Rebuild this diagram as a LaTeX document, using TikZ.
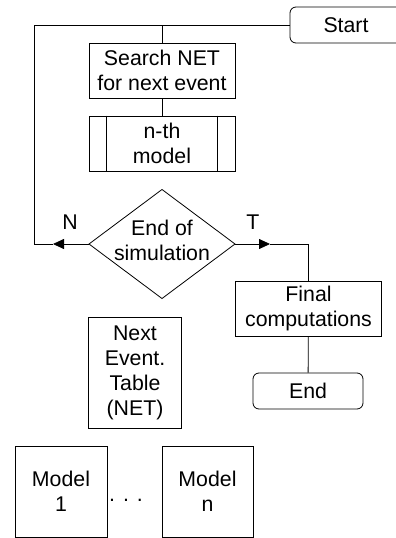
\documentclass[tikz,border=0pt]{standalone}
\usepackage{fontspec}
\setmainfont{Liberation Sans}
\usetikzlibrary{arrows.meta}

\begin{document}
\begin{tikzpicture}[x=1pt, y=-1pt, line width=0.8pt,
  box/.style={draw, inner sep=0pt, align=center, font=\fontsize{21.3}{25}\selectfont},
  term/.style={box, rounded corners=6pt},
  lbl/.style={inner sep=0pt, font=\fontsize{21.3}{25}\selectfont},
  arr/.style={-{Triangle[length=11pt,width=10pt]}}]
  %tikz  simulation loop over the next event table
    \useasboundingbox (0,0) rectangle (396,538);
    \def\bw{146pt}
    \def\bh{55pt}
    \node[term, minimum width=112pt, minimum height=36pt] (start) at (346,25) {Start};
    \node[box, minimum width=\bw, minimum height=\bh] (search) at (162,70.5) {Search NET\\for next event};
    \node[box, minimum width=\bw, minimum height=\bh] (nth) at (162,143.5) {n-th\\model};
    \draw ([xshift=18pt]nth.north west) -- ([xshift=18pt]nth.south west);
    \draw ([xshift=-18pt]nth.north east) -- ([xshift=-18pt]nth.south east);
    % decision
    \coordinate (decW) at (89,244);
    \coordinate (decE) at (235,244);
    \draw (decW) -- (162,189.5) -- (decE) -- (162,298.5) -- cycle;
    \node[lbl, align=center] (dec) at (162,240) {End of\\simulation};
    \node[box, minimum width=\bw, minimum height=\bh] (fin) at (308.5,308.5) {Final\\computations};
    \node[term, minimum width=110pt, minimum height=36pt] (end) at (308,391) {End};
    \node[box, minimum width=93pt, minimum height=111pt] (net) at (135,372.5) {Next\\Event.\\Table\\(NET)};
    \node[box, minimum width=92pt, minimum height=91pt] (m1) at (61,491.5) {Model\\1};
    \node[box, minimum width=91pt, minimum height=91pt] (mn) at (207.5,491.5) {Model\\n};
    \node[lbl, anchor=base] (dots) at (126,501) {. . .};
    % connectors
    \coordinate (nTip) at (53,244);
    \coordinate (tTip) at (270,244);
    \coordinate (loop) at (34,244);
    \draw (search.north) -- (search.north |- start.west);
    \draw (nTip) -- (loop) |- (start.west);
    \draw (search) -- (nth);
    \draw[arr] (decW) -- (nTip);
    \draw[arr] (decE) -- (tTip);
    \draw (tTip) -| (fin.north);
    \draw (fin) -- (end);
    \node[lbl] (nlab) at (70,222) {N};
    \node[lbl] (tlab) at (253,222) {T};
\end{tikzpicture}
\end{document}
